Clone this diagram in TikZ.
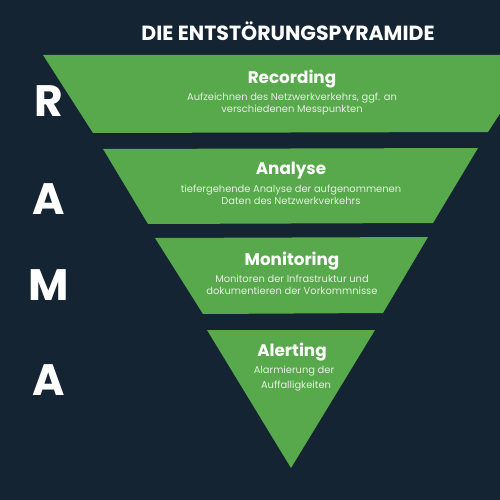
\documentclass[tikz,border=0pt]{standalone}
\usepackage{fontspec}
\setmainfont{Poppins}
\newfontfamily\pop{Poppins}
\definecolor{bgnavy}{HTML}{142432}
\definecolor{pgreen}{HTML}{57A94B}
\definecolor{subwhite}{HTML}{E6F0E3}
\begin{document}
\begin{tikzpicture}[x=1pt,y=-1pt,
  layer/.style={fill=pgreen},
  ttl/.style={text=white,font=\pop\bfseries\fontsize{20.5}{24}\selectfont},
  head/.style={text=white,font=\pop\bfseries\fontsize{16.8}{20}\selectfont},
  sub/.style={text=subwhite,font=\pop\fontsize{9.9}{12.3}\selectfont,align=center},
  big/.style={text=white,font=\pop\bfseries\fontsize{44}{50}\selectfont}]
\fill[bgnavy] (0,0) rectangle (500,500);
\useasboundingbox (0,0) rectangle (500,500);
\begin{scope}
\clip (0,0) rectangle (500,500);
\fill[layer] (43,55) -- (538,55) -- (488,132) -- (93,133) -- cycle;
\fill[layer] (103,149) -- (478,148) -- (433,223) -- (148,224) -- cycle;
\fill[layer] (155,238) -- (428,237) -- (383,313) -- (203,314) -- cycle;
\fill[layer] (207,330) -- (375,330) -- (291,468) -- cycle;
\end{scope}
\node[ttl] (title) at (288,31) {DIE ENTSTÖRUNGSPYRAMIDE};
\node[big] (r) at (49,101) {R};
\node[big] (a1) at (49,199) {A};
\node[big] (m) at (49,285) {M};
\node[big] (a2) at (49,380) {A};
\node[head] (h1) at (292,79) {Recording};
\node[sub] (s1) at (292,104) {Aufzeichnen des Netzwerkverkehrs, ggf. an\\verschiedenen Messpunkten};
\node[head] (h2) at (291,171) {Analyse};
\node[sub] (s2) at (291,195) {tiefergehende Analyse der aufgenommenen\\Daten des Netzwerkverkehrs};
\node[head] (h3) at (292,261) {Monitoring};
\node[sub] (s3) at (292,285) {Monitoren der Infrastruktur und\\dokumentieren der Vorkommnisse};
\node[head] (h4) at (292,352) {Alerting};
\node[sub,font=\pop\fontsize{9.9}{15}\selectfont] (s4) at (294,379) {Alarmierung der\\\hspace*{4pt}Auffalligkeiten};
\end{tikzpicture}
\end{document}
